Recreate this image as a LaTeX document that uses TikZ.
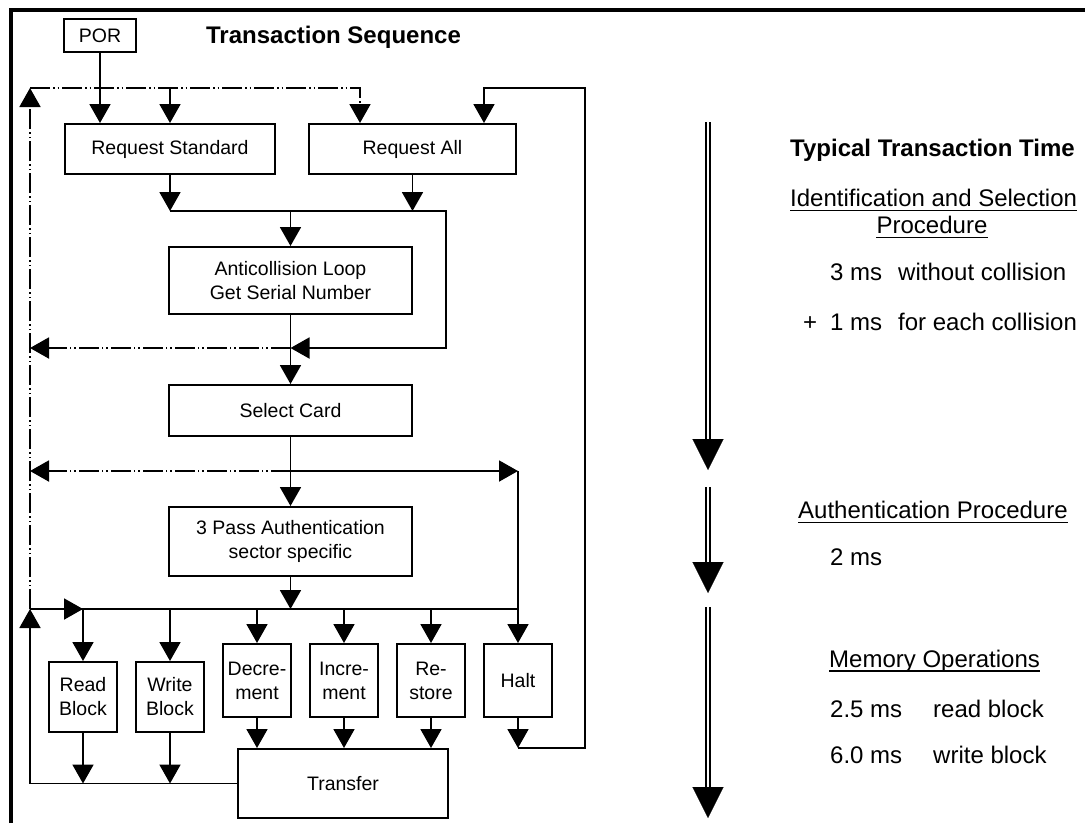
\documentclass[tikz,border=0pt]{standalone}
\usepackage{fontspec}
\setmainfont{Liberation Sans}
\usepackage{tikz}
\usetikzlibrary{arrows.meta, positioning, calc}

\newcommand{\procfont}{\fontsize{19.5}{24}\selectfont}
\newcommand{\notefont}{\fontsize{24}{28}\selectfont}

\tikzstyle{process} = [rectangle, draw=black, line width=2pt, inner sep=0pt, align=center, font=\procfont]
\tikzstyle{arrow} = [line width=1.9pt, -{Triangle[width=21pt,length=19pt]}]
\tikzstyle{wire} = [line width=1.9pt]
\tikzstyle{loopback} = [line width=1.9pt, dash pattern=on 20pt off 3pt on 1.5pt off 3pt on 1.5pt off 3pt]
\tikzstyle{looparrow} = [loopback, -{Triangle[width=21pt,length=19pt]}]
\tikzstyle{note} = [inner sep=0pt, anchor=west, font=\notefont]
\tikzstyle{uline} = [line width=1.6pt]
\tikzstyle{timeshaft} = [double, line width=1.9pt, double distance=2.4pt]
\tikzstyle{timehead} = [line width=0.1pt, -{Triangle[width=31pt,length=31pt]}]

\begin{document}
\begin{tikzpicture}[x=1pt, y=-1pt, node distance=130pt]
		\useasboundingbox (0,0) rectangle (1085,823);
		\draw [line width=4pt] (11,823) -- (11,10) -- (1085,10);
		
		\node (por) [process, minimum width=72pt, minimum height=33pt] at (100,35.5) {POR};
		\node (title) [font=\notefont\bfseries] at (333.5,37) {Transaction Sequence};
		
		\node (rqs) [process, minimum width=210pt, minimum height=50pt] at (170,149) {Request Standard};
		\node (rqa) [process, minimum width=207pt, minimum height=50pt] at (412.5,149) {Request All};
		\node (anti) [process, minimum width=243pt, minimum height=67pt] at (290.5,280.5) {Anticollision Loop\\Get Serial Number};
		\node (sel) [process, below of=anti, minimum width=243pt, minimum height=51pt] {Select Card};
		\node (auth) [process, below of=sel, yshift=-1pt, minimum width=243pt, minimum height=69pt] {3 Pass Authentication\\sector specific};
		
		\node (read) [process, minimum width=68pt, minimum height=70pt] at (83,697) {Read\\Block};
		\node (write) [process, right of=read, xshift=-43pt, minimum width=68pt, minimum height=70pt] {Write\\Block};
		\node (dec) [process, minimum width=68pt, minimum height=73pt] at (257,680.5) {Decre-\\ment};
		\node (inc) [process, right of=dec, xshift=-43pt, minimum width=68pt, minimum height=73pt] {Incre-\\ment};
		\node (res) [process, right of=inc, xshift=-43pt, minimum width=68pt, minimum height=73pt] {Re-\\store};
		\node (halt) [process, right of=res, xshift=-43pt, minimum width=68pt, minimum height=73pt] {Halt};
		\node (trans) [process, minimum width=210pt, minimum height=69pt] at (343,783.5) {Transfer};
		
		\coordinate (lt) at (30,88);
		\coordinate (lb) at (30,609);
		\coordinate (rt) at (585,88);
		\coordinate (jn) at (446,211);
		\coordinate (jb) at (446,348);
		\coordinate (sj) at (290.5,471);
		
		\draw [arrow] (por) -- (por |- rqs.north);
		\draw [looparrow] (lb) -- (lt);
		\draw [looparrow] (lt) -| ([xshift=-52.5pt]rqa.north);
		\draw [arrow] (rqs.north |- lt) -- (rqs.north);
		\draw [arrow] (rqs.south) -- (rqs.south |- jn);
		\draw [arrow] (rqa.south) -- (rqa.south |- jn);
		\draw [arrow] (rqs.south |- jn) -- (jn) -- (jb) -- (jb -| anti.south);
		\draw [arrow] (anti.north |- jn) -- (anti.north);
		\draw [looparrow] (jb -| anti.south) -- (jb -| lt);
		\draw [arrow] (anti) -- (sel);
		\draw [arrow] (sel) -- (auth);
		\draw [looparrow] (sj) -- (sj -| lt);
		\draw [arrow] (sj) -- (sj -| halt);
		\draw [arrow] (sj -| halt) -- (halt);
		\draw [arrow] (auth) -- (auth |- lb);
		\draw [wire] (lb) -- (lb -| halt);
		\draw [arrow] (lb) -- (lb -| read);
		\draw [arrow] (lb -| read) -- (read);
		\draw [arrow] (lb -| write) -- (write);
		\draw [arrow] (lb -| dec) -- (dec);
		\draw [arrow] (lb -| inc) -- (inc);
		\draw [arrow] (lb -| res) -- (res);
		\draw [arrow] (read) -- (read |- trans.west);
		\draw [arrow] (write) -- (write |- trans.west);
		\draw [arrow] (trans.west) -| (lb);
		\draw [arrow] (dec) -- (dec |- trans.north);
		\draw [arrow] (inc) -- (inc |- trans.north);
		\draw [arrow] (res) -- (res |- trans.north);
		\draw [arrow] (halt) -- (halt |- trans.north);
		\draw [arrow] (halt.south |- trans.north) -| (rt) -| ([xshift=71.5pt]rqa.north);
		
		% time axis
		\coordinate (ta) at (708,122);
		\coordinate (tae) at (708,470);
		\coordinate (tb) at (708,487);
		\coordinate (tbe) at (708,593);
		\coordinate (tc) at (708,607);
		\coordinate (tce) at (708,818);
		\draw [timeshaft] (ta) -- ([yshift=31pt]tae);
		\draw [timehead] ([yshift=31pt]tae) -- (tae);
		\draw [timeshaft] (tb) -- ([yshift=31pt]tbe);
		\draw [timehead] ([yshift=31pt]tbe) -- (tbe);
		\draw [timeshaft] (tc) -- ([yshift=31pt]tce);
		\draw [timehead] ([yshift=31pt]tce) -- (tce);
		
		\node (ttt) [note, font=\notefont\bfseries] at (790,150) {Typical Transaction Time};
		\node (isp) [note] at (790,198) {Identification and Selection};
		\node (ispb) [note, anchor=center] at (932,225) {Procedure};
		\node (t3) [note] at (830,272) {3 ms\hspace{16pt}without collision};
		\node (t1) [note] at (803,322) {+\hspace{13pt}1 ms\hspace{16pt}for each collision};
		\node (aup) [note] at (798,510) {Authentication Procedure};
		\node (t2) [note] at (830,557) {2 ms};
		\node (mop) [note] at (829,661) {Memory Operations};
		\node (trb) [note] at (830,709) {\makebox[103pt][l]{2.5 ms}read block};
		\node (twb) [note] at (830,755) {\makebox[103pt][l]{6.0 ms}write block};
		
		\draw [uline] ([yshift=-4pt]isp.base west) -- ([yshift=-4pt]isp.base east);
		\draw [uline] ([yshift=-4pt]ispb.base west) -- ([yshift=-4pt]ispb.base east);
		\draw [uline] ([yshift=-4pt]aup.base west) -- ([yshift=-4pt]aup.base east);
		\draw [uline] ([yshift=-4pt]mop.base west) -- ([yshift=-4pt]mop.base east);
\end{tikzpicture}
\end{document}
